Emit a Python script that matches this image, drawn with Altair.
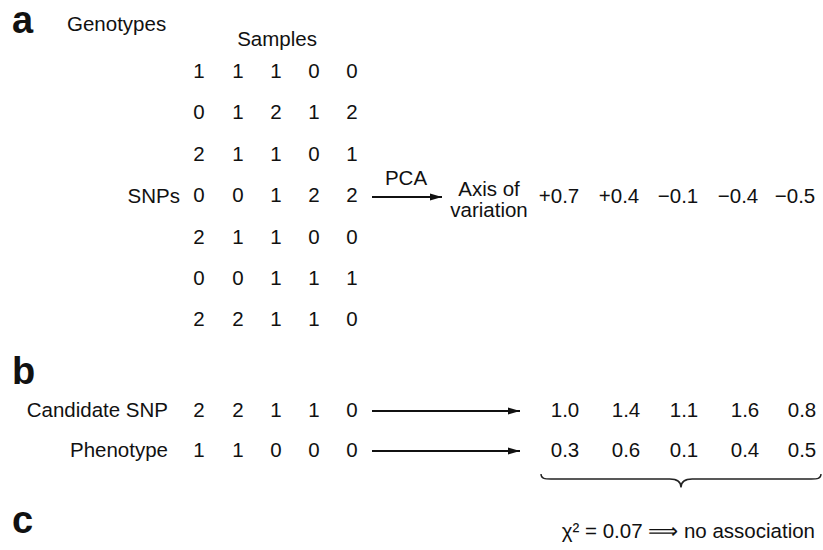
import altair as alt
import pandas as pd

# ---------------- data ----------------
genotypes = [
    [1, 1, 1, 0, 0],
    [0, 1, 2, 1, 2],
    [2, 1, 1, 0, 1],
    [0, 0, 1, 2, 2],
    [2, 1, 1, 0, 0],
    [0, 0, 1, 1, 1],
    [2, 2, 1, 1, 0],
]
pca_axis = ["+0.7", "+0.4", "\u22120.1", "\u22120.4", "\u22120.5"]
candidate_snp = [2, 2, 1, 1, 0]
phenotype = [1, 1, 0, 0, 0]
candidate_scores = ["1.0", "1.4", "1.1", "1.6", "0.8"]
phenotype_scores = ["0.3", "0.6", "0.1", "0.4", "0.5"]
result_text = "\u03c7\u00b2 = 0.07 \u27f9 no association"

# ---------------- layout (pixel space of the figure) ----------------
W, H = 823, 550
col_x = [199, 238, 276, 314, 352]
row_y = [72, 113, 155, 196, 238, 279, 320]
pca_x = [559, 619, 678, 738, 795]
score_x = [565, 626, 684, 745, 802]
cand_y, pheno_y = 411, 451

X = alt.X("x:Q", scale=alt.Scale(domain=[0, W]), axis=None)
Y = alt.Y("y:Q", scale=alt.Scale(domain=[0, H], reverse=True), axis=None)

FONT = "Liberation Sans"
FS = 20.5


def text_layer(records, size=FS, align="center", font=FONT, weight="normal",
               baseline="middle"):
    df = pd.DataFrame(records, columns=["x", "y", "t"])
    return alt.Chart(df).mark_text(
        fontSize=size, align=align, baseline=baseline, font=font,
        fontWeight=weight, color="#111111"
    ).encode(x=X, y=Y, text="t:N")


layers = []

# panel letters (y is the baseline)
layers.append(text_layer([(12, 33, "a"), (12, 384, "b"), (12, 533, "c")],
                         size=38, align="left", weight="bold",
                         baseline="alphabetic"))

# panel a headings
layers.append(text_layer([(67, 25, "Genotypes")], align="left"))
layers.append(text_layer([(277, 40, "Samples")]))
layers.append(text_layer([(180, 197, "SNPs")], align="right"))

# genotype matrix
mat = []
for r, row in enumerate(genotypes):
    for c, v in enumerate(row):
        mat.append((col_x[c], row_y[r], str(v)))
layers.append(text_layer(mat))

# PCA arrow text
layers.append(text_layer([(406, 179, "PCA")]))
layers.append(text_layer([(489, 190, "Axis of"), (489, 211, "variation")]))
layers.append(text_layer([(pca_x[i], 197, v) for i, v in enumerate(pca_axis)]))

# panel b
layers.append(text_layer([(168, cand_y, "Candidate SNP"), (168, pheno_y, "Phenotype")],
                         align="right"))
rowb = [(col_x[i], cand_y, str(v)) for i, v in enumerate(candidate_snp)]
rowb += [(col_x[i], pheno_y, str(v)) for i, v in enumerate(phenotype)]
layers.append(text_layer(rowb))
rows2 = [(score_x[i], cand_y, v) for i, v in enumerate(candidate_scores)]
rows2 += [(score_x[i], pheno_y, v) for i, v in enumerate(phenotype_scores)]
layers.append(text_layer(rows2))

# result text
layers.append(text_layer([(815, 532, result_text)], align="right"))

# arrows
arrows = pd.DataFrame({
    "x": [372, 372, 372],
    "x2": [442, 520, 520],
    "y": [197, cand_y, pheno_y],
})
layers.append(alt.Chart(arrows).mark_rule(color="#111111", strokeWidth=2).encode(
    x=X, x2="x2:Q", y=Y))
heads = arrows.assign(hx=arrows["x2"] - 6)
layers.append(alt.Chart(heads).mark_point(
    shape="M -1 -0.6 L 1 0 L -1 0.6 Z", size=144, filled=True,
    color="#111111", opacity=1, strokeWidth=0
).encode(x=alt.X("hx:Q", scale=alt.Scale(domain=[0, W]), axis=None), y=Y))

# brace under the scores
brace = pd.DataFrame({"x": [681], "y": [479]})
brace_path = ("M -1 -0.035 C -1 0 -0.97 0 -0.93 0 L -0.08 0 "
              "C -0.03 0 0 0.02 0 0.06 C 0 0.02 0.03 0 0.08 0 "
              "L 0.93 0 C 0.97 0 1 0 1 -0.035")
layers.append(alt.Chart(brace).mark_point(
    shape=brace_path, size=280 * 280, filled=False, color="#222222",
    opacity=1, strokeWidth=1.4
).encode(x=X, y=Y))

chart = alt.layer(*layers).properties(
    width=W, height=H, padding=0, autosize=alt.AutoSizeParams(type="none"),
    background="white"
).configure_view(stroke=None)

chart.save("out.html", embed_options={"renderer": "svg", "actions": False})
